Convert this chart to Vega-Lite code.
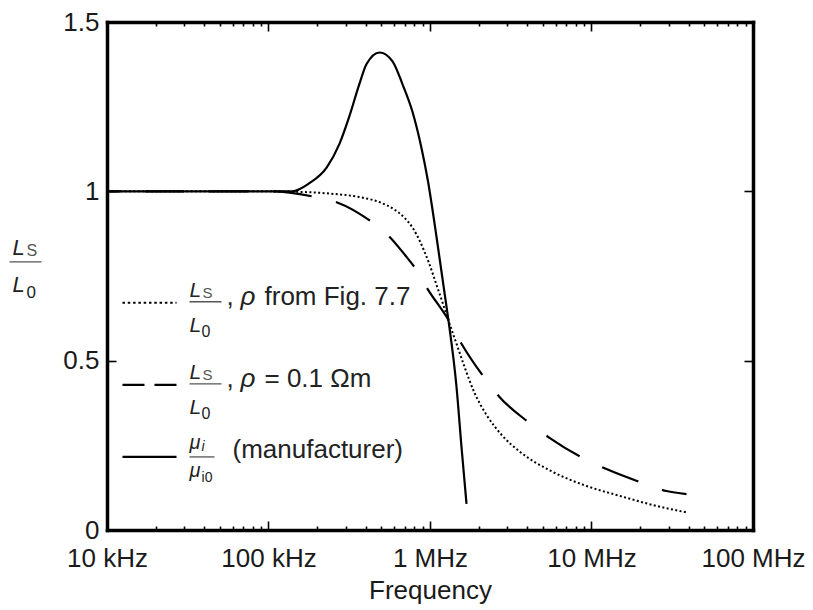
{
  "$schema": "https://vega.github.io/schema/vega-lite/v6.json",
  "width": 646,
  "height": 508,
  "autosize": {"type": "none"},
  "padding": {"left": 107, "top": 22, "right": 60, "bottom": 80},
  "background": "white",
  "config": {
    "view": {"stroke": null},
    "font": "Liberation Sans"
  },
  "datasets": {
    "curves": [
      {"f": 10000, "v": 1.0, "s": "dotted"},
      {"f": 100000, "v": 1.0, "s": "dotted"},
      {"f": 140000, "v": 0.999, "s": "dotted"},
      {"f": 230000, "v": 0.994, "s": "dotted"},
      {"f": 366000, "v": 0.983, "s": "dotted"},
      {"f": 487000, "v": 0.968, "s": "dotted"},
      {"f": 603000, "v": 0.946, "s": "dotted"},
      {"f": 695000, "v": 0.922, "s": "dotted"},
      {"f": 779000, "v": 0.893, "s": "dotted"},
      {"f": 873000, "v": 0.849, "s": "dotted"},
      {"f": 979000, "v": 0.792, "s": "dotted"},
      {"f": 1097000, "v": 0.724, "s": "dotted"},
      {"f": 1195000, "v": 0.672, "s": "dotted"},
      {"f": 1302000, "v": 0.618, "s": "dotted"},
      {"f": 1459000, "v": 0.55, "s": "dotted"},
      {"f": 1635000, "v": 0.482, "s": "dotted"},
      {"f": 1886000, "v": 0.405, "s": "dotted"},
      {"f": 2238000, "v": 0.34, "s": "dotted"},
      {"f": 2811000, "v": 0.278, "s": "dotted"},
      {"f": 3583000, "v": 0.232, "s": "dotted"},
      {"f": 5735000, "v": 0.172, "s": "dotted"},
      {"f": 9312000, "v": 0.13, "s": "dotted"},
      {"f": 14910000, "v": 0.101, "s": "dotted"},
      {"f": 23870000, "v": 0.074, "s": "dotted"},
      {"f": 38740000, "v": 0.052, "s": "dotted"},

      {"f": 10000, "v": 1.0, "s": "dashed"},
      {"f": 106000, "v": 1.0, "s": "dashed"},
      {"f": 187000, "v": 0.985, "s": "dashed"},
      {"f": 264000, "v": 0.968, "s": "dashed"},
      {"f": 434000, "v": 0.91, "s": "dashed"},
      {"f": 561000, "v": 0.866, "s": "dashed"},
      {"f": 700000, "v": 0.812, "s": "dashed"},
      {"f": 824000, "v": 0.768, "s": "dashed"},
      {"f": 965000, "v": 0.712, "s": "dashed"},
      {"f": 1302000, "v": 0.62, "s": "dashed"},
      {"f": 1567000, "v": 0.55, "s": "dashed"},
      {"f": 2175000, "v": 0.449, "s": "dashed"},
      {"f": 2693000, "v": 0.393, "s": "dashed"},
      {"f": 4131000, "v": 0.316, "s": "dashed"},
      {"f": 5495000, "v": 0.272, "s": "dashed"},
      {"f": 8797000, "v": 0.213, "s": "dashed"},
      {"f": 12380000, "v": 0.18, "s": "dashed"},
      {"f": 20700000, "v": 0.139, "s": "dashed"},
      {"f": 29140000, "v": 0.115, "s": "dashed"},
      {"f": 38740000, "v": 0.106, "s": "dashed"},

      {"f": 10000, "v": 1.0, "s": "solid"},
      {"f": 100000, "v": 1.0, "s": "solid"},
      {"f": 140000, "v": 1.0, "s": "solid"},
      {"f": 179000, "v": 1.024, "s": "solid"},
      {"f": 229000, "v": 1.07, "s": "solid"},
      {"f": 275000, "v": 1.14, "s": "solid"},
      {"f": 317000, "v": 1.222, "s": "solid"},
      {"f": 366000, "v": 1.318, "s": "solid"},
      {"f": 404000, "v": 1.375, "s": "solid"},
      {"f": 487000, "v": 1.41, "s": "solid"},
      {"f": 586000, "v": 1.384, "s": "solid"},
      {"f": 676000, "v": 1.316, "s": "solid"},
      {"f": 779000, "v": 1.235, "s": "solid"},
      {"f": 880000, "v": 1.134, "s": "solid"},
      {"f": 970000, "v": 1.032, "s": "solid"},
      {"f": 1097000, "v": 0.866, "s": "solid"},
      {"f": 1230000, "v": 0.7, "s": "solid"},
      {"f": 1302000, "v": 0.618, "s": "solid"},
      {"f": 1459000, "v": 0.423, "s": "solid"},
      {"f": 1567000, "v": 0.245, "s": "solid"},
      {"f": 1683000, "v": 0.077, "s": "solid"}
    ],
    "one": [{"k": 1}]
  },
  "data": {"name": "curves"},
  "layer": [
    {
      "transform": [{"filter": "datum.s == 'dotted'"}],
      "mark": {"type": "line", "color": "black", "strokeWidth": 2, "strokeDash": [2, 2.4], "interpolate": "monotone"},
      "encoding": {
        "x": {"field": "f", "type": "quantitative",
          "scale": {"type": "log", "domain": [10000, 100000000], "nice": false},
          "axis": {"orient": "bottom", "grid": false,
            "values": [10000,20000,30000,40000,50000,60000,70000,80000,90000,100000,200000,300000,400000,500000,600000,700000,800000,900000,1000000,2000000,3000000,4000000,5000000,6000000,7000000,8000000,9000000,10000000,20000000,30000000,40000000,50000000,60000000,70000000,80000000,90000000,100000000],
            "labelExpr": "datum.value == 10000 ? '10 kHz' : datum.value == 100000 ? '100 kHz' : datum.value == 1000000 ? '1 MHz' : datum.value == 10000000 ? '10 MHz' : datum.value == 100000000 ? '100 MHz' : ''",
            "labelOverlap": false, "labelFlush": false,
            "tickSize": {"condition": {"test": "indexof([10000,100000,1000000,10000000,100000000], datum.value) >= 0", "value": -9}, "value": -4},
            "tickColor": "black", "tickWidth": 1.6,
            "domainColor": "black", "domainWidth": 3.5, "domainCap": "square",
            "labelFont": "Liberation Sans", "labelFontSize": 26, "labelColor": "#1a1a1a", "labelPadding": 24,
            "title": "Frequency", "titleFont": "Liberation Sans", "titleFontSize": 26, "titleFontWeight": "normal", "titleColor": "#1a1a1a", "titlePadding": 1}},
        "y": {"field": "v", "type": "quantitative",
          "scale": {"domain": [0, 1.5], "nice": false, "zero": false},
          "axis": {"orient": "left", "grid": false, "values": [0, 0.5, 1, 1.5], "format": "~g",
            "tickSize": -9, "tickColor": "black", "tickWidth": 1.6,
            "domainColor": "black", "domainWidth": 3.5, "domainCap": "square",
            "labelFont": "Liberation Sans", "labelFontSize": 26, "labelColor": "#1a1a1a", "labelPadding": 17,
            "title": null}}
      }
    },
    {
      "transform": [{"filter": "datum.s == 'dashed'"}],
      "mark": {"type": "line", "color": "black", "strokeWidth": 2.2, "strokeDash": [39, 25], "strokeDashOffset": 26, "interpolate": "monotone"},
      "encoding": {
        "x": {"field": "f", "type": "quantitative",
          "scale": {"type": "log", "domain": [10000, 100000000], "nice": false},
          "axis": {"orient": "top", "grid": false, "labels": false, "title": null,
            "values": [10000,20000,30000,40000,50000,60000,70000,80000,90000,100000,200000,300000,400000,500000,600000,700000,800000,900000,1000000,2000000,3000000,4000000,5000000,6000000,7000000,8000000,9000000,10000000,20000000,30000000,40000000,50000000,60000000,70000000,80000000,90000000,100000000],
            "tickSize": {"condition": {"test": "indexof([10000,100000,1000000,10000000,100000000], datum.value) >= 0", "value": -9}, "value": -4},
            "tickColor": "black", "tickWidth": 1.6,
            "domainColor": "black", "domainWidth": 3.5, "domainCap": "square"}},
        "y": {"field": "v", "type": "quantitative",
          "scale": {"domain": [0, 1.5], "nice": false, "zero": false},
          "axis": {"orient": "right", "grid": false, "labels": false, "title": null, "values": [0, 0.5, 1, 1.5],
            "tickSize": -9, "tickColor": "black", "tickWidth": 1.6,
            "domainColor": "black", "domainWidth": 3.5, "domainCap": "square"}}
      }
    },
    {
      "transform": [{"filter": "datum.s == 'solid'"}],
      "mark": {"type": "line", "color": "black", "strokeWidth": 2.2, "interpolate": "monotone"},
      "encoding": {
        "x": {"field": "f", "type": "quantitative", "scale": {"type": "log", "domain": [10000, 100000000], "nice": false}, "axis": null},
        "y": {"field": "v", "type": "quantitative", "scale": {"domain": [0, 1.5], "nice": false, "zero": false}, "axis": null}
      }
    },
    {
      "data": {"name": "one"},
      "layer": [
        {"mark": {"type": "rule", "color": "black", "strokeWidth": 2, "strokeDash": [2.5, 2.8]},
         "encoding": {"x": {"datum": 12470, "axis": null}, "x2": {"datum": 26940}, "y": {"datum": 0.671, "axis": null}}},
        {"mark": {"type": "rule", "color": "black", "strokeWidth": 2.4, "strokeDash": [22, 10]},
         "encoding": {"x": {"datum": 12470, "axis": null}, "x2": {"datum": 26940}, "y": {"datum": 0.4286, "axis": null}}},
        {"mark": {"type": "rule", "color": "black", "strokeWidth": 2.4},
         "encoding": {"x": {"datum": 12470, "axis": null}, "x2": {"datum": 26940}, "y": {"datum": 0.2158, "axis": null}}},

        {"mark": {"type": "rule", "color": "#555555", "strokeWidth": 1.3},
         "encoding": {"x": {"datum": 32430, "axis": null}, "x2": {"datum": 51170}, "y": {"datum": 0.674, "axis": null}}},
        {"mark": {"type": "text", "text": "L", "fontStyle": "italic", "fontSize": 21, "color": "#222222", "align": "left", "baseline": "alphabetic", "dx": 0, "dy": -5},
         "encoding": {"x": {"datum": 32430, "axis": null}, "y": {"datum": 0.674, "axis": null}}},
        {"mark": {"type": "text", "text": "S", "fontSize": 15, "color": "#555555", "align": "left", "baseline": "alphabetic", "dx": 13, "dy": -4},
         "encoding": {"x": {"datum": 32430, "axis": null}, "y": {"datum": 0.674, "axis": null}}},
        {"mark": {"type": "text", "text": "L", "fontStyle": "italic", "fontSize": 21, "color": "#222222", "align": "left", "baseline": "alphabetic", "dx": 0, "dy": 30},
         "encoding": {"x": {"datum": 32430, "axis": null}, "y": {"datum": 0.674, "axis": null}}},
        {"mark": {"type": "text", "text": "0", "fontSize": 16, "color": "#222222", "align": "left", "baseline": "alphabetic", "dx": 12, "dy": 35},
         "encoding": {"x": {"datum": 32430, "axis": null}, "y": {"datum": 0.674, "axis": null}}},
        {"mark": {"type": "text", "text": ",", "fontSize": 26, "color": "#222222", "align": "left", "baseline": "alphabetic", "dy": 3},
         "encoding": {"x": {"datum": 54950, "axis": null}, "y": {"datum": 0.674, "axis": null}}},
        {"mark": {"type": "text", "text": "ρ", "fontStyle": "italic", "fontSize": 26, "color": "#222222", "align": "left", "baseline": "alphabetic", "dx": 14, "dy": 3},
         "encoding": {"x": {"datum": 54950, "axis": null}, "y": {"datum": 0.674, "axis": null}}},
        {"mark": {"type": "text", "text": "from Fig. 7.7", "fontSize": 26, "color": "#222222", "align": "left", "baseline": "alphabetic", "dx": 38, "dy": 3},
         "encoding": {"x": {"datum": 54950, "axis": null}, "y": {"datum": 0.674, "axis": null}}},

        {"mark": {"type": "rule", "color": "#555555", "strokeWidth": 1.3},
         "encoding": {"x": {"datum": 32430, "axis": null}, "x2": {"datum": 51170}, "y": {"datum": 0.4316, "axis": null}}},
        {"mark": {"type": "text", "text": "L", "fontStyle": "italic", "fontSize": 21, "color": "#222222", "align": "left", "baseline": "alphabetic", "dx": 0, "dy": -5},
         "encoding": {"x": {"datum": 32430, "axis": null}, "y": {"datum": 0.4316, "axis": null}}},
        {"mark": {"type": "text", "text": "S", "fontSize": 15, "color": "#555555", "align": "left", "baseline": "alphabetic", "dx": 13, "dy": -4},
         "encoding": {"x": {"datum": 32430, "axis": null}, "y": {"datum": 0.4316, "axis": null}}},
        {"mark": {"type": "text", "text": "L", "fontStyle": "italic", "fontSize": 21, "color": "#222222", "align": "left", "baseline": "alphabetic", "dx": 0, "dy": 30},
         "encoding": {"x": {"datum": 32430, "axis": null}, "y": {"datum": 0.4316, "axis": null}}},
        {"mark": {"type": "text", "text": "0", "fontSize": 16, "color": "#222222", "align": "left", "baseline": "alphabetic", "dx": 12, "dy": 35},
         "encoding": {"x": {"datum": 32430, "axis": null}, "y": {"datum": 0.4316, "axis": null}}},
        {"mark": {"type": "text", "text": ",", "fontSize": 26, "color": "#222222", "align": "left", "baseline": "alphabetic", "dy": 3},
         "encoding": {"x": {"datum": 54950, "axis": null}, "y": {"datum": 0.4316, "axis": null}}},
        {"mark": {"type": "text", "text": "ρ", "fontStyle": "italic", "fontSize": 26, "color": "#222222", "align": "left", "baseline": "alphabetic", "dx": 14, "dy": 3},
         "encoding": {"x": {"datum": 54950, "axis": null}, "y": {"datum": 0.4316, "axis": null}}},
        {"mark": {"type": "text", "text": "= 0.1 Ωm", "fontSize": 26, "color": "#222222", "align": "left", "baseline": "alphabetic", "dx": 38, "dy": 3},
         "encoding": {"x": {"datum": 54950, "axis": null}, "y": {"datum": 0.4316, "axis": null}}},

        {"mark": {"type": "rule", "color": "#555555", "strokeWidth": 1.3},
         "encoding": {"x": {"datum": 32430, "axis": null}, "x2": {"datum": 46310}, "y": {"datum": 0.2158, "axis": null}}},
        {"mark": {"type": "text", "text": "μ", "fontStyle": "italic", "fontSize": 20, "color": "#222222", "align": "left", "baseline": "alphabetic", "dx": 0, "dy": -8},
         "encoding": {"x": {"datum": 32430, "axis": null}, "y": {"datum": 0.2158, "axis": null}}},
        {"mark": {"type": "text", "text": "i", "fontStyle": "italic", "fontSize": 14, "color": "#222222", "align": "left", "baseline": "alphabetic", "dx": 12, "dy": -6},
         "encoding": {"x": {"datum": 32430, "axis": null}, "y": {"datum": 0.2158, "axis": null}}},
        {"mark": {"type": "text", "text": "μ", "fontStyle": "italic", "fontSize": 20, "color": "#222222", "align": "left", "baseline": "alphabetic", "dx": 0, "dy": 20},
         "encoding": {"x": {"datum": 32430, "axis": null}, "y": {"datum": 0.2158, "axis": null}}},
        {"mark": {"type": "text", "text": "i0", "fontSize": 14, "color": "#222222", "align": "left", "baseline": "alphabetic", "dx": 12, "dy": 25},
         "encoding": {"x": {"datum": 32430, "axis": null}, "y": {"datum": 0.2158, "axis": null}}},
        {"mark": {"type": "text", "text": "(manufacturer)", "fontSize": 26, "color": "#222222", "align": "left", "baseline": "alphabetic", "dy": 1},
         "encoding": {"x": {"datum": 59850, "axis": null}, "y": {"datum": 0.2158, "axis": null}}},

        {"mark": {"type": "rule", "color": "#555555", "strokeWidth": 1.3},
         "encoding": {"x": {"datum": 2490, "axis": null}, "x2": {"datum": 3930}, "y": {"datum": 0.792, "axis": null}}},
        {"mark": {"type": "text", "text": "L", "fontStyle": "italic", "fontSize": 22, "color": "#222222", "align": "left", "baseline": "alphabetic", "dx": 3, "dy": -7},
         "encoding": {"x": {"datum": 2490, "axis": null}, "y": {"datum": 0.792, "axis": null}}},
        {"mark": {"type": "text", "text": "S", "fontSize": 16, "color": "#555555", "align": "left", "baseline": "alphabetic", "dx": 17, "dy": -6},
         "encoding": {"x": {"datum": 2490, "axis": null}, "y": {"datum": 0.792, "axis": null}}},
        {"mark": {"type": "text", "text": "L", "fontStyle": "italic", "fontSize": 22, "color": "#222222", "align": "left", "baseline": "alphabetic", "dx": 3, "dy": 30},
         "encoding": {"x": {"datum": 2490, "axis": null}, "y": {"datum": 0.792, "axis": null}}},
        {"mark": {"type": "text", "text": "0", "fontSize": 17, "color": "#222222", "align": "left", "baseline": "alphabetic", "dx": 17, "dy": 36},
         "encoding": {"x": {"datum": 2490, "axis": null}, "y": {"datum": 0.792, "axis": null}}}
      ]
    }
  ],
  "resolve": {"axis": {"x": "independent", "y": "independent"}}
}
